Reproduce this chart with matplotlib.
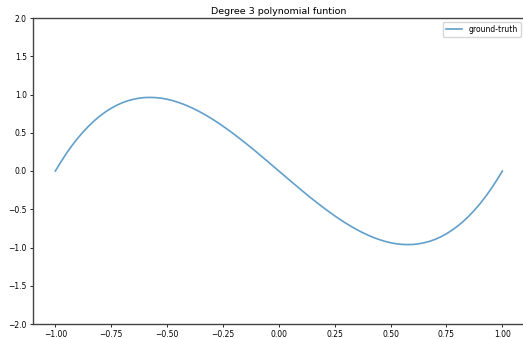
import matplotlib
matplotlib.use("Agg")
import matplotlib.pyplot as plt

# values
x_vals = [-1.000, -0.975, -0.950, -0.925, -0.900, -0.875, -0.850, -0.825, -0.800, -0.775,
          -0.750, -0.725, -0.700, -0.675, -0.650, -0.625, -0.600, -0.575, -0.550, -0.525,
          -0.500, -0.475, -0.450, -0.425, -0.400, -0.375, -0.350, -0.325, -0.300, -0.275,
          -0.250, -0.225, -0.200, -0.175, -0.150, -0.125, -0.100, -0.075, -0.050, -0.025,
          0.000, 0.025, 0.050, 0.075, 0.100, 0.125, 0.150, 0.175, 0.200, 0.225,
          0.250, 0.275, 0.300, 0.325, 0.350, 0.375, 0.400, 0.425, 0.450, 0.475,
          0.500, 0.525, 0.550, 0.575, 0.600, 0.625, 0.650, 0.675, 0.700, 0.725,
          0.750, 0.775, 0.800, 0.825, 0.850, 0.875, 0.900, 0.925, 0.950, 0.975, 1.000]
y_vals = [0.000, 0.120, 0.232, 0.334, 0.428, 0.513, 0.590, 0.659, 0.720, 0.774,
          0.820, 0.860, 0.893, 0.919, 0.938, 0.952, 0.960, 0.962, 0.959, 0.951,
          0.938, 0.920, 0.897, 0.871, 0.840, 0.806, 0.768, 0.727, 0.683, 0.636,
          0.586, 0.534, 0.480, 0.424, 0.367, 0.308, 0.248, 0.186, 0.125, 0.062,
          0.000, -0.062, -0.125, -0.186, -0.248, -0.308, -0.367, -0.424, -0.480, -0.534,
          -0.586, -0.636, -0.683, -0.727, -0.768, -0.806, -0.840, -0.871, -0.897, -0.920,
          -0.938, -0.951, -0.959, -0.962, -0.960, -0.952, -0.938, -0.919, -0.893, -0.860,
          -0.820, -0.774, -0.720, -0.659, -0.590, -0.513, -0.428, -0.334, -0.232, -0.120, 0.000]
x_ticks = [-1.00, -0.75, -0.50, -0.25, 0.00, 0.25, 0.50, 0.75, 1.00]
y_ticks = [-2.0, -1.5, -1.0, -0.5, 0.0, 0.5, 1.0, 1.5, 2.0]

fig = plt.figure(figsize=(5.23, 3.39), dpi=100)
ax = fig.add_axes([33 / 523, 15 / 339, 491.7 / 523, 306 / 339])

ax.plot(x_vals, y_vals, color="#1f77b4", alpha=0.7, lw=1.2, label="ground-truth")
ax.set_xlim(-1.1, 1.1)
ax.set_ylim(-2, 2)
ax.set_xticks(x_ticks)
ax.set_yticks(y_ticks)
ax.tick_params(labelsize=5.5, length=2.5, width=0.6, pad=2)
for s in ax.spines.values():
    s.set_linewidth(1.0)
    s.set_color("#444444")
ax.set_title("Degree 3 polynomial funtion", fontsize=6.8, pad=3)
ax.legend(loc="upper right", fontsize=5.5, handlelength=2.2)

fig.savefig("out.png", dpi=100)
